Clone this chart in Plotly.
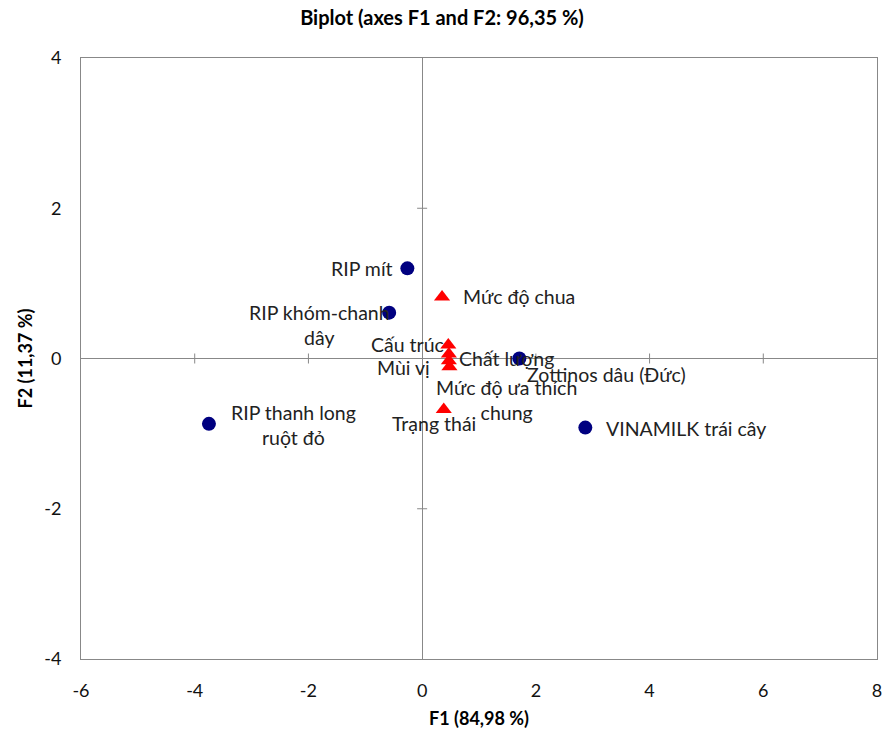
import plotly.graph_objects as go

# Observations (products)
obs_names = ["RIP mít", "RIP khóm-chanh<br>dây", "RIP thanh long<br>ruột đỏ",
             "Zottinos dâu (Đức)", "VINAMILK trái cây"]
obs_f1 = [-0.26, -0.58, -3.75, 1.71, 2.87]
obs_f2 = [1.20, 0.61, -0.87, 0.00, -0.92]

# Variables (attributes)
var_names = ["Mức độ chua", "Cấu trúc", "Chất lượng", "Mùi vị",
             "Mức độ ưa thích<br>chung", "Trạng thái"]
var_f1 = [0.35, 0.46, 0.47, 0.47, 0.48, 0.38]
var_f2 = [0.82, 0.18, 0.06, -0.03, -0.11, -0.68]

x_ticks = [-6, -4, -2, 0, 2, 4, 6, 8]
x_ticktext = ["-6", "-4", "-2", "0", "2", "4", "6", "8"]
y_ticks = [-4, -2, 0, 2, 4]
y_ticktext = ["-4", "-2", "0", "2", "4"]

title_text = "Biplot (axes F1 and F2: 96,35 %)"
x_title = "F1 (84,98 %)"
y_title = "F2 (11,37 %)"

# label offsets (pixels) and anchors -- styling only
obs_label_style = [
    dict(xshift=-12, yshift=0, xanchor="right", align="right"),
    dict(xshift=-70, yshift=-12, xanchor="center", align="center"),
    dict(xshift=85, yshift=-1, xanchor="center", align="center"),
    dict(xshift=6, yshift=-16, xanchor="left", align="left"),
    dict(xshift=19, yshift=-1, xanchor="left", align="left"),
]
var_label_style = [
    dict(xshift=19, yshift=0, xanchor="left", align="left"),
    dict(xshift=-2, yshift=0, xanchor="right", align="right"),
    dict(xshift=8, yshift=-5, xanchor="left", align="left"),
    dict(xshift=-17, yshift=-7, xanchor="right", align="right"),
    dict(xshift=57, yshift=-33, xanchor="center", align="center"),
    dict(xshift=-10, yshift=-14, xanchor="center", align="center"),
]

FONT = "Lato, 'Open Sans', sans-serif"
LBL = 19.5

fig = go.Figure()
fig.add_trace(go.Scatter(
    x=obs_f1, y=obs_f2, mode="markers",
    marker=dict(symbol="circle", size=14, color="#000080"),
    hoverinfo="skip", showlegend=False))
fig.add_trace(go.Scatter(
    x=var_f1, y=var_f2, mode="markers",
    marker=dict(symbol="triangle-up", size=14, color="#FF0000"),
    hoverinfo="skip", showlegend=False))

annotations = []
for n, x, y, st in zip(obs_names, obs_f1, obs_f2, obs_label_style):
    annotations.append(dict(x=x, y=y, text=n, showarrow=False,
                            font=dict(size=LBL, color="#222", family=FONT),
                            yanchor="middle", **st))
for n, x, y, st in zip(var_names, var_f1, var_f2, var_label_style):
    annotations.append(dict(x=x, y=y, text=n, showarrow=False,
                            font=dict(size=LBL, color="#222", family=FONT),
                            yanchor="middle", **st))

# axis titles placed as paper annotations
annotations.append(dict(xref="paper", yref="paper", x=0.5, y=0, yshift=-59,
                        xanchor="center", yanchor="middle", showarrow=False,
                        text="<b>" + x_title + "</b>",
                        font=dict(size=18, family=FONT, color="#000")))
annotations.append(dict(xref="paper", yref="paper", x=0, y=0.5, xshift=-57,
                        xanchor="center", yanchor="middle", showarrow=False,
                        textangle=-90, text="<b>" + y_title + "</b>",
                        font=dict(size=18, family=FONT, color="#000")))

shapes = []
for t in x_ticks:
    if t not in (0, x_ticks[0], x_ticks[-1]):
        shapes.append(dict(type="line", xref="x", yref="y", x0=t, x1=t,
                           ysizemode="pixel", yanchor=0, y0=-5, y1=5,
                           line=dict(color="#888", width=1)))
for t in y_ticks:
    if t not in (0, y_ticks[0], y_ticks[-1]):
        shapes.append(dict(type="line", xref="x", yref="y", y0=t, y1=t,
                           xsizemode="pixel", xanchor=0, x0=-5, x1=5,
                           line=dict(color="#888", width=1)))

fig.update_layout(
    width=884, height=735,
    margin=dict(l=81, r=7, t=58, b=76),
    paper_bgcolor="white", plot_bgcolor="white",
    title=dict(text="<b>" + title_text + "</b>", x=0.5, xanchor="center",
               xref="container", y=1 - 18 / 735, yanchor="middle", automargin=False,
               font=dict(size=20, color="#000", family=FONT)),
    annotations=annotations, shapes=shapes,
    font=dict(family=FONT, size=17, color="#000"),
)
fig.update_xaxes(range=[-6, 8], tickvals=x_ticks, ticktext=x_ticktext, showgrid=False,
                 automargin=False,
                 zeroline=True, zerolinecolor="#888", zerolinewidth=1,
                 showline=True, linecolor="#888", linewidth=1, mirror=True,
                 ticks="outside", ticklen=15, tickcolor="rgba(0,0,0,0)",
                 tickfont=dict(size=18, family=FONT, color="#111"))
fig.update_yaxes(range=[-4, 4], tickvals=y_ticks, ticktext=y_ticktext, showgrid=False,
                 automargin=False,
                 zeroline=True, zerolinecolor="#888", zerolinewidth=1,
                 showline=True, linecolor="#888", linewidth=1, mirror=True,
                 ticks="outside", ticklen=15, tickcolor="rgba(0,0,0,0)",
                 tickfont=dict(size=18, family=FONT, color="#111"))

fig.write_html("out.html", config={"displayModeBar": False},
               post_script="document.body.style.margin='0';")
